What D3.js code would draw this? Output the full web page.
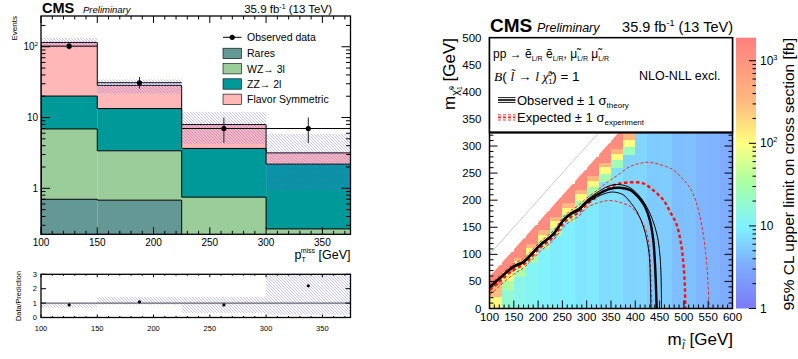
<!DOCTYPE html>
<html>
<head>
<meta charset="utf-8">
<script src="https://cdnjs.cloudflare.com/ajax/libs/d3/7.8.5/d3.min.js"></script>
<style>
  body { margin: 0; background: #fff; }
  svg { display: block; font-family: "Liberation Sans", Arial, sans-serif; }
</style>
</head>
<body>
<div id="chart"></div>
<script>
// CMS slepton search: MET distribution (left) and mass-plane limit (right)

// ---------- left panel data ----------
var binEdges = [100, 150, 225, 300, 375];
var rares = [0.70, 0.68, 0.12, 0.05];
var wzTo3l = [6.2, 2.71, 0.63, 0.217];
var zzTo2l = [13.2, 10.0, 2.91, 1.93];
var flavorSym = [95, 15.1, 4.3, 0.97];
var predLow = [98, 22, 4.2, 0.95];
var predHigh = [134, 34.5, 12, 5.9];
var observed = [102, 31, 7, 7];
var obsErrLow = [10, 5.4, 2.6, 2.6];
var obsErrHigh = [11, 6.5, 3.0, 3.0];
var ratio = [0.87, 1.09, 0.87, 2.2];
var ratioBandLow = [0.68, 0.9, 0.32, 0.2];
var ratioBandHigh = [1.0, 1.42, 1.42, 3.2];
var procNames = ["Rares", "WZ\u2192 3l", "ZZ\u2192 2l", "Flavor Symmetric"];
var procColors = ["#649895", "#9bcd9a", "#009999", "#ffb7b7"];
var xTickLabels = [100, 150, 200, 250, 300, 350];
var mainYTicks = [1, 10, 100];
var ratioYTicks = [0, 1, 2, 3];

// ---------- right panel data ----------
var heatColStart = [100, 125, 150, 175, 200, 225, 250, 275, 300, 325,
                    350, 375, 400, 425, 450, 475, 500, 525, 550, 575];
// [mLSP low, mLSP high, limit in fb] per slepton-mass column
var heatSegments = [
  [[0, 22, 110], [22, 45, 300], [45, 80, 1300]],
  [[0, 35, 18], [35, 52, 35], [52, 68, 110], [68, 105, 1300]],
  [[0, 60, 13], [60, 75, 35], [75, 88, 110], [88, 95, 350], [95, 130, 1300]],
  [[0, 85, 11.5], [85, 100, 32], [100, 112, 110], [112, 120, 350], [120, 155, 1300]],
  [[0, 110, 10.5], [110, 125, 30], [125, 137, 110], [137, 145, 350], [145, 180, 1300]],
  [[0, 135, 9.2], [135, 150, 30], [150, 162, 110], [162, 170, 350], [170, 205, 1300]],
  [[0, 160, 9.6], [160, 175, 30], [175, 187, 110], [187, 195, 350], [195, 230, 1300]],
  [[0, 185, 8.3], [185, 200, 28], [200, 212, 110], [212, 220, 350], [220, 255, 1300]],
  [[0, 210, 8.6], [210, 225, 28], [225, 237, 110], [237, 245, 350], [245, 280, 1300]],
  [[0, 235, 7.2], [235, 250, 26], [250, 262, 100], [262, 270, 350], [270, 305, 1300]],
  [[0, 260, 7.6], [260, 275, 25], [275, 287, 100], [287, 295, 350], [295, 325, 1300]],
  [[0, 285, 6.2], [285, 300, 24], [300, 312, 100], [312, 325, 350]],
  [[0, 325, 6.4]],
  [[0, 325, 5.3]],
  [[0, 325, 5.5]],
  [[0, 325, 4.5]],
  [[0, 325, 4.6]],
  [[0, 325, 3.9]],
  [[0, 325, 3.8]],
  [[0, 325, 3.3]]
];
var heatColWidth = 25;
var scanEdge = [[100, 0], [100, 59], [366, 325], [600, 325], [600, 0]];

var observedLimit = [[101, 40], [125, 59], [149, 77], [170, 86], [183, 97], [204, 117], [231, 137],
  [252, 163], [269, 176], [283, 182], [300, 197], [321, 210], [348, 221], [368, 223], [389, 219],
  [406, 206], [420, 188], [430, 163], [437, 126], [440.5, 83], [442.5, 40], [444, 0]];
var observedUp = [[101, 42], [125, 61], [149, 79], [170, 88], [183, 99], [204, 119], [231, 139],
  [252, 165], [269, 178], [283, 185], [300, 200], [321, 214], [345, 226], [362, 229], [385, 225],
  [403, 213], [418, 196], [430, 176], [440, 152], [447, 126], [451, 95], [453, 60], [454, 0]];
var observedDown = [[101, 38], [125, 57], [149, 75], [170, 84], [183, 95], [204, 115], [231, 135],
  [252, 161], [269, 174], [283, 180], [300, 194], [321, 206], [340, 213], [355, 215], [375, 210],
  [389, 197], [404, 178], [416, 153], [424, 126], [429, 96], [431, 50], [432, 0]];
var expectedLimit = [[101, 34], [125, 53], [149, 71], [170, 81], [183, 92], [204, 112], [231, 132],
  [252, 157], [269, 170], [283, 177], [300, 192], [320, 206], [334, 217], [360, 229], [389, 233],
  [416, 231], [440, 216], [458, 200], [472, 178], [485, 155], [494, 120], [499, 83], [502, 40], [503, 0]];
var expectedUp = [[101, 45], [125, 64], [149, 82], [170, 92], [183, 103], [204, 123], [231, 143],
  [252, 169], [269, 182], [283, 190], [300, 204], [327, 222], [345, 235], [362, 245], [389, 262],
  [410, 268], [427, 270], [450, 266], [478, 256], [497, 240], [513, 222], [524, 200], [533, 170],
  [541, 130], [547, 83], [550, 40], [552, 0]];
var expectedDown = [[101, 25], [125, 45], [149, 63], [170, 75], [183, 86], [204, 105], [231, 126],
  [252, 150], [269, 163], [283, 170], [300, 186], [320, 194], [341, 199], [360, 198], [375, 194],
  [389, 189], [403, 176], [414, 160], [423.5, 140], [429, 110], [432, 60], [434, 0]];
var diagonal = [[100, 100], [330, 330]];

var cbTicks = [1, 10, 100, 1000];
var cbTickSup = ["", "", "2", "3"];
var paletteLog = [0, 0.5, 1.0, 1.5, 2.0, 2.5, 3.28];
var paletteColors = ["#7b7bf6", "#7fa9ff", "#80f2ff", "#a6ffa6", "#ffff80", "#ffba80", "#ff7f7f"];

// ---------- helpers ----------
var svg = d3.select("#chart").append("svg")
  .attr("width", 798)
  .attr("height", 359);
var defs = svg.append("defs");

// text with sub/superscripts, offsets relative to the main baseline
function richText(g, x, y, parts, size) {
  var t = g.append("text").attr("x", x).attr("y", y).style("font-size", size + "px");
  var cur = 0;
  parts.forEach(function(p) {
    var off = p.off || 0;
    var ts = t.append("tspan").attr("dy", off - cur).text(p.t);
    if (p.fs) ts.style("font-size", p.fs + "px");
    if (p.dx) ts.attr("dx", p.dx);
    if (p.it) ts.style("font-style", "italic");
    if (p.serif) ts.style("font-family", "'Liberation Serif', 'DejaVu Serif', serif");
    cur = off;
  });
  return t;
}

// hatch used for uncertainty bands
var hatch = defs.append("pattern")
  .attr("id", "hatch")
  .attr("patternUnits", "userSpaceOnUse")
  .attr("width", 3)
  .attr("height", 3);
hatch.append("path")
  .attr("d", "M0,0L3,3M-1,2L1,4M2,-1L4,1")
  .attr("stroke", "#5c5cff")
  .attr("stroke-opacity", 0.75)
  .attr("stroke-width", 0.5);

// ================= LEFT PANEL =================
var xL = d3.scaleLinear().domain([100, 375]).range([41, 350.5]);
var yFloor = 0.224;
var yL = d3.scaleLog().domain([yFloor, 272]).range([234.3, 16]);

defs.append("clipPath").attr("id", "mainClip")
  .append("rect")
  .attr("x", 41).attr("y", 16)
  .attr("width", 309.5).attr("height", 218.3);

var left = svg.append("g");
var mainG = left.append("g").attr("clip-path", "url(#mainClip)");

// stacked backgrounds
var procValues = [rares, wzTo3l, zzTo2l, flavorSym];
var cumul = [];
procValues.forEach(function(vals, k) {
  cumul.push(vals.map(function(v, i) { return (k ? cumul[k - 1][i] : 0) + v; }));
});

procValues.forEach(function(vals, k) {
  var lower = k ? cumul[k - 1] : [0, 0, 0, 0];
  var upper = cumul[k];
  mainG.selectAll(".bar" + k)
    .data(vals)
    .enter()
    .append("rect")
    .attr("x", (d, i) => xL(binEdges[i]))
    .attr("width", (d, i) => xL(binEdges[i + 1]) - xL(binEdges[i]))
    .attr("y", (d, i) => yL(upper[i]))
    .attr("height", (d, i) => yL(Math.max(lower[i], yFloor / 2)) - yL(upper[i]))
    .attr("fill", procColors[k]);
});

// step outlines of each stack layer
var stepLine = d3.line()
  .x(d => xL(d[0]))
  .y(d => yL(Math.max(d[1], yFloor / 2)));
cumul.forEach(function(tops) {
  var pts = [[binEdges[0], yFloor / 2]];
  tops.forEach(function(t, i) {
    pts.push([binEdges[i], t]);
    pts.push([binEdges[i + 1], t]);
  });
  pts.push([binEdges[binEdges.length - 1], yFloor / 2]);
  mainG.append("path")
    .attr("d", stepLine(pts))
    .attr("fill", "none")
    .attr("stroke", "#000")
    .attr("stroke-width", 1);
});

// uncertainty band
mainG.selectAll(".band")
  .data(predLow)
  .enter()
  .append("rect")
  .attr("x", (d, i) => xL(binEdges[i]))
  .attr("width", (d, i) => xL(binEdges[i + 1]) - xL(binEdges[i]))
  .attr("y", (d, i) => yL(predHigh[i]))
  .attr("height", (d, i) => yL(d) - yL(predHigh[i]))
  .attr("fill", "url(#hatch)");

// observed data
var dataG = mainG.append("g");
observed.forEach(function(v, i) {
  var xc = xL((binEdges[i] + binEdges[i + 1]) / 2);
  dataG.append("line")
    .attr("x1", xL(binEdges[i])).attr("x2", xL(binEdges[i + 1]))
    .attr("y1", yL(v)).attr("y2", yL(v))
    .attr("stroke", "#000").attr("stroke-width", 1);
  dataG.append("line")
    .attr("x1", xc).attr("x2", xc)
    .attr("y1", yL(v - obsErrLow[i])).attr("y2", yL(v + obsErrHigh[i]))
    .attr("stroke", "#222").attr("stroke-width", 1);
  dataG.append("circle")
    .attr("cx", xc).attr("cy", yL(v)).attr("r", 2.6)
    .attr("fill", "#000");
});

// axes ticks (ROOT style, inward)
var tickG = left.append("g").attr("stroke", "#000").attr("stroke-width", 1);
xL.ticks(28).forEach(function(v) {
  var major = v % 50 === 0;
  var len = major ? 7 : 3.5;
  tickG.append("line").attr("x1", xL(v)).attr("x2", xL(v)).attr("y1", 234.3).attr("y2", 234.3 - len);
  tickG.append("line").attr("x1", xL(v)).attr("x2", xL(v)).attr("y1", 16).attr("y2", 16 + len);
});
yL.ticks().forEach(function(v) {
  var major = mainYTicks.indexOf(v) >= 0;
  var len = major ? 9 : 4.5;
  tickG.append("line").attr("x1", 41).attr("x2", 41 + len).attr("y1", yL(v)).attr("y2", yL(v));
  tickG.append("line").attr("x1", 350.5).attr("x2", 350.5 - len).attr("y1", yL(v)).attr("y2", yL(v));
});

left.append("rect")
  .attr("x", 41).attr("y", 16)
  .attr("width", 309.5).attr("height", 218.3)
  .attr("fill", "none").attr("stroke", "#000").attr("stroke-width", 1.3);

// tick labels
left.selectAll(".xlab")
  .data(xTickLabels)
  .enter()
  .append("text")
  .attr("x", d => xL(d))
  .attr("y", 245.5)
  .attr("text-anchor", "middle")
  .style("font-size", "10px")
  .text(d => d);
richText(left, 38, yL(100) + 3.5, [{t: "10"}, {t: "2", fs: 6, off: -4}], 10).attr("text-anchor", "end");
richText(left, 38, yL(10) + 3.5, [{t: "10"}], 10).attr("text-anchor", "end");
richText(left, 38, yL(1) + 3.5, [{t: "1"}], 10).attr("text-anchor", "end");

left.append("text")
  .attr("transform", "translate(16.5,16) rotate(-90)")
  .attr("text-anchor", "end")
  .style("font-size", "8px")
  .text("Events");

richText(left, 350.5, 259, [{t: "p"}, {t: "T", fs: 7, off: 3}, {t: "miss", fs: 7, off: -6, dx: -5}, {t: " [GeV]", off: 0}], 12.5)
  .attr("text-anchor", "end");

// title
left.append("text").attr("x", 42).attr("y", 13)
  .style("font-size", "14.5px").style("font-weight", "bold").text("CMS");
left.append("text").attr("x", 83).attr("y", 13)
  .style("font-size", "9.5px").style("font-style", "italic").text("Preliminary");
richText(left, 332, 13, [{t: "35.9 fb"}, {t: "-1", fs: 7, off: -4.5}, {t: " (13 TeV)", off: 0}], 11.5)
  .attr("text-anchor", "end");

// legend
var legG = left.append("g");
var legTop = 37.3, legStep = 15.3;
legG.append("line")
  .attr("x1", 223).attr("x2", 241.5).attr("y1", legTop).attr("y2", legTop)
  .attr("stroke", "#000").attr("stroke-width", 1);
legG.append("circle").attr("cx", 232.2).attr("cy", legTop).attr("r", 2.6).attr("fill", "#000");
legG.append("text").attr("x", 247).attr("y", legTop + 3.8)
  .style("font-size", "10.5px").text("Observed data");
procNames.forEach(function(name, k) {
  var yc = legTop + legStep * (k + 1) + 0.8;
  legG.append("rect")
    .attr("x", 223).attr("y", yc - 5.2)
    .attr("width", 18.5).attr("height", 10.4)
    .attr("fill", procColors[k]).attr("stroke", "#000").attr("stroke-width", 0.6);
  legG.append("text").attr("x", 247).attr("y", yc + 3.8)
    .style("font-size", "10.5px").text(name);
});

// ratio panel
var yR1 = d3.scaleLinear().domain([0, 3]).range([317.5, 274.3]);
defs.append("clipPath").attr("id", "ratioClip")
  .append("rect").attr("x", 41).attr("y", 274.3).attr("width", 309.5).attr("height", 43.2);
var ratioG = left.append("g").attr("clip-path", "url(#ratioClip)");
ratioG.selectAll(".rband")
  .data(ratioBandLow)
  .enter()
  .append("rect")
  .attr("x", (d, i) => xL(binEdges[i]))
  .attr("width", (d, i) => xL(binEdges[i + 1]) - xL(binEdges[i]))
  .attr("y", (d, i) => yR1(ratioBandHigh[i]))
  .attr("height", (d, i) => yR1(d) - yR1(ratioBandHigh[i]))
  .attr("fill", "url(#hatch)");
ratioG.append("line")
  .attr("x1", 41).attr("x2", 350.5).attr("y1", yR1(1)).attr("y2", yR1(1))
  .attr("stroke", "#444").attr("stroke-width", 1);
ratioG.selectAll(".rpt")
  .data(ratio)
  .enter()
  .append("circle")
  .attr("cx", (d, i) => xL((binEdges[i] + binEdges[i + 1]) / 2))
  .attr("cy", d => yR1(d))
  .attr("r", 1.6)
  .attr("fill", "#000");

var rTick = left.append("g").attr("stroke", "#000").attr("stroke-width", 1);
xL.ticks(28).forEach(function(v) {
  var len = v % 50 === 0 ? 3 : 1.5;
  rTick.append("line").attr("x1", xL(v)).attr("x2", xL(v)).attr("y1", 317.5).attr("y2", 317.5 - len);
  rTick.append("line").attr("x1", xL(v)).attr("x2", xL(v)).attr("y1", 274.3).attr("y2", 274.3 + len);
});
ratioYTicks.forEach(function(v) {
  rTick.append("line").attr("x1", 41).attr("x2", 46).attr("y1", yR1(v)).attr("y2", yR1(v));
  rTick.append("line").attr("x1", 350.5).attr("x2", 345.5).attr("y1", yR1(v)).attr("y2", yR1(v));
});
left.append("rect")
  .attr("x", 41).attr("y", 274.3).attr("width", 309.5).attr("height", 43.2)
  .attr("fill", "none").attr("stroke", "#000").attr("stroke-width", 1.3);
left.selectAll(".rylab")
  .data(ratioYTicks)
  .enter()
  .append("text")
  .attr("x", 37).attr("y", d => yR1(d) + 2.5)
  .attr("text-anchor", "end")
  .style("font-size", "7.5px")
  .text(d => d);
left.selectAll(".rxlab")
  .data(xTickLabels)
  .enter()
  .append("text")
  .attr("x", d => xL(d)).attr("y", 331)
  .attr("text-anchor", "middle")
  .style("font-size", "7.5px")
  .text(d => d);
left.append("text")
  .attr("transform", "translate(21,296) rotate(-90)")
  .attr("text-anchor", "middle")
  .style("font-size", "7.3px")
  .text("Data/Prediction");

// ================= RIGHT PANEL =================
var xR = d3.scaleLinear().domain([100, 600]).range([489.5, 732.5]);
var yR = d3.scaleLinear().domain([0, 500]).range([308.5, 37.7]);
var cbScale = d3.scaleLog().domain([1, 1900]).range([308.5, 37.7]);
var color = d3.scaleLinear().domain(paletteLog).range(paletteColors).clamp(true);

var right = svg.append("g");
defs.append("clipPath").attr("id", "scanClip")
  .append("polygon")
  .attr("points", scanEdge.map(p => xR(p[0]) + "," + yR(p[1])).join(" "));
defs.append("clipPath").attr("id", "planeClip")
  .append("rect").attr("x", 489.5).attr("y", 37.7).attr("width", 243).attr("height", 270.8);

var heatG = right.append("g").attr("clip-path", "url(#scanClip)")
  .attr("shape-rendering", "crispEdges");
heatSegments.forEach(function(segs, c) {
  var x0 = heatColStart[c];
  heatG.selectAll(".col" + c)
    .data(segs)
    .enter()
    .append("rect")
    .attr("x", xR(x0))
    .attr("width", xR(x0 + heatColWidth) - xR(x0) + 0.5)
    .attr("y", d => yR(d[1]))
    .attr("height", d => yR(d[0]) - yR(d[1]) + 0.5)
    .attr("fill", d => color(Math.log10(d[2])));
});

var planeG = right.append("g").attr("clip-path", "url(#planeClip)");
planeG.append("line")
  .attr("x1", xR(diagonal[0][0])).attr("y1", yR(diagonal[0][1]))
  .attr("x2", xR(diagonal[1][0])).attr("y2", yR(diagonal[1][1]))
  .attr("stroke", "#c8c8c8").attr("stroke-width", 1);

var contour = d3.line()
  .x(d => xR(d[0]))
  .y(d => yR(d[1]))
  .curve(d3.curveCatmullRom.alpha(0.5));
function drawContour(pts, stroke, width, dash) {
  var p = planeG.append("path")
    .attr("d", contour(pts))
    .attr("fill", "none")
    .attr("stroke", stroke)
    .attr("stroke-width", width);
  if (dash) p.attr("stroke-dasharray", dash);
}
drawContour(expectedUp, "#ff2020", 1, "3,2");
drawContour(expectedDown, "#ff2020", 1, "3,2");
drawContour(expectedLimit, "#ff1010", 2.4, "3.5,2.5");
drawContour(observedUp, "#000", 1);
drawContour(observedDown, "#000", 1);
drawContour(observedLimit, "#000", 2.4);

// ticks
var rt = right.append("g").attr("stroke", "#000").attr("stroke-width", 1);
xR.ticks(50).forEach(function(v) {
  var len = v % 50 === 0 ? 8 : 4;
  rt.append("line").attr("x1", xR(v)).attr("x2", xR(v)).attr("y1", 308.5).attr("y2", 308.5 - len);
});
yR.ticks(50).forEach(function(v) {
  var len = v % 50 === 0 ? 8 : 4;
  rt.append("line").attr("x1", 489.5).attr("x2", 489.5 + len).attr("y1", yR(v)).attr("y2", yR(v));
  rt.append("line").attr("x1", 732.5).attr("x2", 732.5 - len).attr("y1", yR(v)).attr("y2", yR(v));
});
right.append("rect")
  .attr("x", 489.5).attr("y", 37.7).attr("width", 243).attr("height", 270.8)
  .attr("fill", "none").attr("stroke", "#000").attr("stroke-width", 1.5);

// legend box on top of the plane
var box = right.append("g");
box.append("rect")
  .attr("x", 489.5).attr("y", yR(500)).attr("width", 243).attr("height", yR(325) - yR(500))
  .attr("fill", "#fff").attr("stroke", "#000").attr("stroke-width", 1.5);
box.append("line")
  .attr("x1", 489.5).attr("x2", 732.5).attr("y1", yR(325)).attr("y2", yR(325))
  .attr("stroke", "#000").attr("stroke-width", 2.2);
richText(box, 493, 57.5, [
  {t: "pp \u2192 \u1ebd"}, {t: "L/R", fs: 7, off: 3}, {t: " \u1ebd", off: 0}, {t: "L/R", fs: 7, off: 3},
  {t: ", \u03bc\u0303", off: 0}, {t: "L/R", fs: 7, off: 3}, {t: " \u03bc\u0303", off: 0}, {t: "L/R", fs: 7, off: 3}
], 12);
richText(box, 494, 80.5, [
  {t: "B", it: true, serif: true}, {t: "( "}, {t: "l\u0303", it: true, serif: true}, {t: " \u2192 "},
  {t: "l", it: true, serif: true}, {t: " \u03c7\u0303", it: true, serif: true},
  {t: "1", fs: 7, off: 3}, {t: "0", fs: 7, off: -5, dx: -4}, {t: ") = 1", off: 0}
], 13.5);
box.append("text").attr("x", 639).attr("y", 80)
  .style("font-size", "12.5px").text("NLO-NLL excl.");
[97.6, 100, 102.4].forEach(function(yy, i) {
  box.append("line").attr("x1", 498).attr("x2", 515.5).attr("y1", yy).attr("y2", yy)
    .attr("stroke", "#000").attr("stroke-width", i === 1 ? 1.6 : 0.9);
});
[114.8, 117.4, 120].forEach(function(yy, i) {
  box.append("line").attr("x1", 498).attr("x2", 515.5).attr("y1", yy).attr("y2", yy)
    .attr("stroke", "#ff2020").attr("stroke-width", i === 1 ? 1.6 : 0.9)
    .attr("stroke-dasharray", "3,2");
});
richText(box, 517, 104.5, [{t: "Observed \u00b1 1 \u03c3"}, {t: "theory", fs: 8, off: 3}], 13);
richText(box, 517, 122, [{t: "Expected \u00b1 1 \u03c3"}, {t: "experiment", fs: 8, off: 3}], 13);

// axis labels
right.selectAll(".xrlab")
  .data(xR.ticks(10))
  .enter()
  .append("text")
  .attr("x", d => xR(d)).attr("y", 321)
  .attr("text-anchor", "middle")
  .style("font-size", "11.5px")
  .text(d => d);
right.selectAll(".yrlab")
  .data(yR.ticks(10))
  .enter()
  .append("text")
  .attr("x", 481.5).attr("y", d => yR(d) + 4)
  .attr("text-anchor", "end")
  .style("font-size", "11.5px")
  .text(d => d);
richText(right, 733, 345, [{t: "m"}, {t: "l\u0303", fs: 11, off: 4, it: true, serif: true}, {t: " [GeV]", off: 0}], 17)
  .attr("text-anchor", "end");
richText(right, 0, 0, [{t: "m"}, {t: "\u03c7\u0303", fs: 11, off: 4}, {t: "1", fs: 6.5, off: 7},
  {t: "0", fs: 6.5, off: -1, dx: -3.5}, {t: " [GeV]", off: 0}], 17)
  .attr("text-anchor", "end")
  .attr("transform", "translate(455,38) rotate(-90)");

// title
right.append("text").attr("x", 490).attr("y", 32)
  .style("font-size", "19px").style("font-weight", "bold").text("CMS");
right.append("text").attr("x", 537).attr("y", 32)
  .style("font-size", "12.5px").style("font-style", "italic").text("Preliminary");
richText(right, 733, 32, [{t: "35.9 fb"}, {t: "-1", fs: 9, off: -6}, {t: " (13 TeV)", off: 0}], 14.5)
  .attr("text-anchor", "end");

// colour bar
var grad = defs.append("linearGradient")
  .attr("id", "cbGrad")
  .attr("x1", 0).attr("y1", 1).attr("x2", 0).attr("y2", 0);
paletteLog.forEach(function(v, i) {
  grad.append("stop")
    .attr("offset", v / Math.log10(1900))
    .attr("stop-color", paletteColors[i]);
});
right.append("rect")
  .attr("x", 736).attr("y", 37.7).attr("width", 20).attr("height", 270.8)
  .attr("fill", "url(#cbGrad)");
var cbt = right.append("g").attr("stroke", "#000").attr("stroke-width", 1);
cbScale.ticks().forEach(function(v) {
  var len = cbTicks.indexOf(v) >= 0 ? 7 : 3.5;
  cbt.append("line").attr("x1", 756).attr("x2", 756 - len).attr("y1", cbScale(v)).attr("y2", cbScale(v));
});
cbTicks.forEach(function(v, i) {
  var parts = [{t: i === 0 ? "1" : "10"}];
  if (cbTickSup[i]) parts.push({t: cbTickSup[i], fs: 7.5, off: -5});
  richText(right, 760, cbScale(v) + 4, parts, 12);
});
right.append("text")
  .attr("transform", "translate(794,38) rotate(-90)")
  .attr("text-anchor", "end")
  .style("font-size", "15.5px")
  .text("95% CL upper limit on cross section [fb]");
</script>
</body>
</html>
